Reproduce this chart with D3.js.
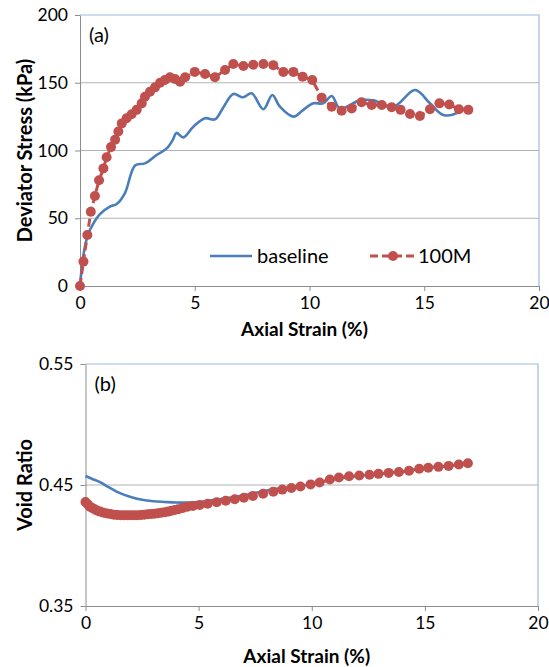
<!DOCTYPE html>
<html>
<head>
<meta charset="utf-8">
<script src="https://cdn.jsdelivr.net/npm/d3@7"></script>
<style>
  body { margin: 0; background: #fff; }
  svg text { font-family: Lato, "Open Sans", sans-serif; fill: #000; }
  .grid line { stroke: #b3b3b3; stroke-width: 1; }
  .axis path, .axis line { stroke: #8c8c8c; }
</style>
</head>
<body>
<div class="chart"></div>
<script>
/* ---------------- data ---------------- */
var xTicks = [0, 5, 10, 15, 20];
var stressTicks = [0, 50, 100, 150, 200];
var voidTicks = [0.35, 0.45, 0.55];
var seriesNames = ["baseline", "100M"];

// (a) deviator stress, kPa vs axial strain %
var stressBaseline = [
  [0,0],[0.15,23],[0.35,38],[0.58,46],[0.87,53],[1.3,58.5],[1.6,60.5],[1.96,68.6],
  [2.4,89],[2.83,90.5],[3.34,96.7],[3.78,101.6],[4.05,108],[4.2,113],[4.5,109.7],
  [4.94,117.6],[5.45,123.8],[5.88,123],[6.25,132],[6.68,141.7],[7.1,139.3],[7.48,142.2],
  [7.99,130.4],[8.38,141],[8.71,132.3],[9.3,125],[9.73,130],[10.17,134.8],[10.6,134.8],
  [10.97,140.2],[11.33,131],[12.2,137],[12.78,137],[13.65,132.3],[14.6,144.6],
  [15.25,134.8],[15.83,126.2],[16.4,127.5],[16.56,130]
];
var stress100M = [
  [0,0],[0.15,18],[0.32,37.6],[0.47,54.8],[0.65,66.4],[0.83,78],[1.02,86.8],[1.16,95],
  [1.35,102.5],[1.53,108],[1.67,114],[1.82,120],[2.03,123.8],[2.25,126.7],[2.47,130],
  [2.69,134.8],[2.83,139.7],[3.05,143.4],[3.27,146.6],[3.49,150],[3.7,152],[3.92,154],
  [4.14,152.8],[4.36,150.8],[4.58,154],[5.0,158],[5.45,156.5],[5.88,154],[6.32,159.4],
  [6.68,163.8],[7.12,162.4],[7.55,163.3],[7.99,163.8],[8.42,163],[8.86,158],[9.3,158],
  [9.7,154.5],[10.12,152],[10.53,139],[10.97,132.3],[11.4,129.4],[11.84,131],[12.27,135.6],
  [12.71,133.6],[13.15,133.6],[13.58,131.9],[13.97,130],[14.38,127],[14.81,125.5],
  [15.25,130.4],[15.66,134.8],[16.09,134],[16.51,130.4],[16.92,130]
];

// (b) void ratio vs axial strain %
var voidBaseline = [
  [0,0.4574],[0.3,0.455],[0.64,0.4524],[1.0,0.4485],[1.5,0.4435],[2.0,0.440],[2.5,0.4378],
  [3.0,0.4366],[3.5,0.436],[4.0,0.4355],[4.5,0.4355],[5.0,0.436],[5.5,0.4372],[6.0,0.4385],
  [6.5,0.4398],[7.0,0.4415],[7.7,0.4442],[8.6,0.4472],[9.5,0.449],[10.0,0.451],[11.0,0.4548],
  [12.0,0.4575],[13.0,0.4592],[14.0,0.461],[15.0,0.4642],[16.0,0.4658],[16.9,0.468]
];
var void100M = [
  [0,0.436],[0.1,0.434],[0.2,0.432],[0.3,0.431],[0.4,0.430],[0.5,0.429],[0.65,0.428],
  [0.8,0.427],[0.95,0.4265],[1.1,0.426],[1.25,0.4255],[1.4,0.4252],[1.55,0.425],[1.7,0.425],
  [1.85,0.425],[2.0,0.425],[2.15,0.425],[2.3,0.425],[2.45,0.4252],[2.6,0.4255],[2.75,0.4258],
  [2.9,0.426],[3.05,0.4263],[3.2,0.4266],[3.35,0.427],[3.5,0.4275],[3.65,0.428],[3.8,0.4287],
  [3.95,0.4293],[4.1,0.430],[4.3,0.431],[4.5,0.432],[4.75,0.4327],[5.05,0.4335],[5.4,0.4345],
  [5.8,0.4357],[6.2,0.437],[6.6,0.4382],[7.0,0.4395],[7.4,0.441],[7.85,0.4428],[8.3,0.4445],
  [8.7,0.4462],[9.1,0.4475],[9.5,0.4488],[9.95,0.4505],[10.35,0.452],[10.8,0.4545],
  [11.2,0.4562],[11.65,0.4572],[12.1,0.4578],[12.55,0.4585],[12.95,0.4592],[13.4,0.460],
  [13.85,0.4607],[14.3,0.4618],[14.75,0.4635],[15.15,0.4643],[15.6,0.465],[16.05,0.4658],
  [16.5,0.467],[16.9,0.468]
];

/* ---------------- drawing ---------------- */
var BLUE = "#4a7ebb";
var RED = "#c0504d";
var FRAME = "#9bbbe0";

var svg = d3.select(".chart").append("svg")
  .attr("width", 549).attr("height", 667);

function Panel(opt) {
  var x = d3.scaleLinear().domain([0, 20]).range(opt.xr);
  var y = d3.scaleLinear().domain(opt.yd).range(opt.yr);
  var g = svg.append("g");

  // gridlines (not the top one, that's the frame)
  g.append("g").attr("class", "grid").selectAll("line")
    .data(opt.yTicks.slice(1, -1)).enter().append("line")
      .attr("x1", x(0)).attr("x2", x(20))
      .attr("y1", function(d) { return y(d); })
      .attr("y2", function(d) { return y(d); });

  // blue-ish frame top + right
  g.append("path")
    .attr("d", "M" + x(0) + "," + y(opt.yd[1]) + "H" + x(20) + "V" + y(opt.yd[0]))
    .attr("fill", "none").attr("stroke", FRAME).attr("stroke-width", 1.2);

  var ax = g.append("g").attr("class", "axis")
    .attr("transform", "translate(0," + y(opt.yd[0]) + ")")
    .call(d3.axisBottom(x).tickValues(xTicks).tickSize(5).tickSizeOuter(0).tickPadding(6));
  ax.selectAll("text").style("font-size", "17.5px");

  var ay = g.append("g").attr("class", "axis")
    .attr("transform", "translate(" + x(0) + ",0)")
    .call(d3.axisLeft(y).tickValues(opt.yTicks).tickFormat(opt.fmt).tickSize(5).tickSizeOuter(0).tickPadding(7));
  ay.selectAll("text").style("font-size", "17.5px");

  g.append("text")
    .attr("x", x(10) - 5).attr("y", opt.xTitleY)
    .attr("text-anchor", "middle")
    .style("font-size", "19px").style("font-weight", "bold")
    .text("Axial Strain (%)");

  g.append("text")
    .attr("transform", "translate(" + opt.yTitleX + "," + ((opt.yr[0] + opt.yr[1]) / 2) + ") rotate(-90)")
    .attr("text-anchor", "middle")
    .style("font-size", "20px").style("font-weight", "bold")
    .text(opt.yTitle);

  g.append("text")
    .attr("x", x(0) + opt.tagDx).attr("y", y(opt.yd[1]) + 27)
    .style("font-size", "20px")
    .text(opt.tag);

  return { g: g, x: x, y: y };
}

function drawBlue(p, data) {
  var line = d3.line()
    .x(function(d) { return p.x(d[0]); })
    .y(function(d) { return p.y(d[1]); })
    .curve(d3.curveCatmullRom.alpha(0.5));
  p.g.append("path").datum(data)
    .attr("d", line).attr("fill", "none")
    .attr("stroke", BLUE).attr("stroke-width", 2.6);
}

function drawRed(p, data, r) {
  var line = d3.line()
    .x(function(d) { return p.x(d[0]); })
    .y(function(d) { return p.y(d[1]); });
  p.g.append("path").datum(data)
    .attr("d", line).attr("fill", "none")
    .attr("stroke", RED).attr("stroke-width", 3)
    .attr("stroke-dasharray", "8,4");
  p.g.append("g").selectAll("circle").data(data).enter()
    .append("circle")
      .attr("cx", function(d) { return p.x(d[0]); })
      .attr("cy", function(d) { return p.y(d[1]); })
      .attr("r", r).attr("fill", RED);
}

var pa = Panel({
  xr: [80, 539], yd: [0, 200], yr: [286, 15],
  yTicks: stressTicks, fmt: d3.format("d"),
  xTitleY: 336, yTitle: "Deviator Stress (kPa)", yTitleX: 32,
  tag: "(a)", tagDx: 9
});
var pb = Panel({
  xr: [85.5, 538], yd: [0.35, 0.55], yr: [606, 364],
  yTicks: voidTicks, fmt: d3.format(".2f"),
  xTitleY: 663, yTitle: "Void Ratio", yTitleX: 32,
  tag: "(b)", tagDx: 9
});

drawBlue(pa, stressBaseline);
drawRed(pa, stress100M, 5);
drawBlue(pb, voidBaseline);
drawRed(pb, void100M, 5);

// legend inside (a)
var leg = pa.g.append("g");
leg.append("line").attr("x1", 210).attr("x2", 252).attr("y1", 256).attr("y2", 256)
  .attr("stroke", BLUE).attr("stroke-width", 2.6);
leg.append("text").attr("x", 257).attr("y", 263).style("font-size", "20px").text(seriesNames[0]);
leg.append("line").attr("x1", 370).attr("x2", 414).attr("y1", 256).attr("y2", 256)
  .attr("stroke", RED).attr("stroke-width", 3).attr("stroke-dasharray", "8,4");
leg.append("circle").attr("cx", 393).attr("cy", 256).attr("r", 5).attr("fill", RED);
leg.append("text").attr("x", 418).attr("y", 263).style("font-size", "20px").text(seriesNames[1]);
</script>
</body>
</html>
